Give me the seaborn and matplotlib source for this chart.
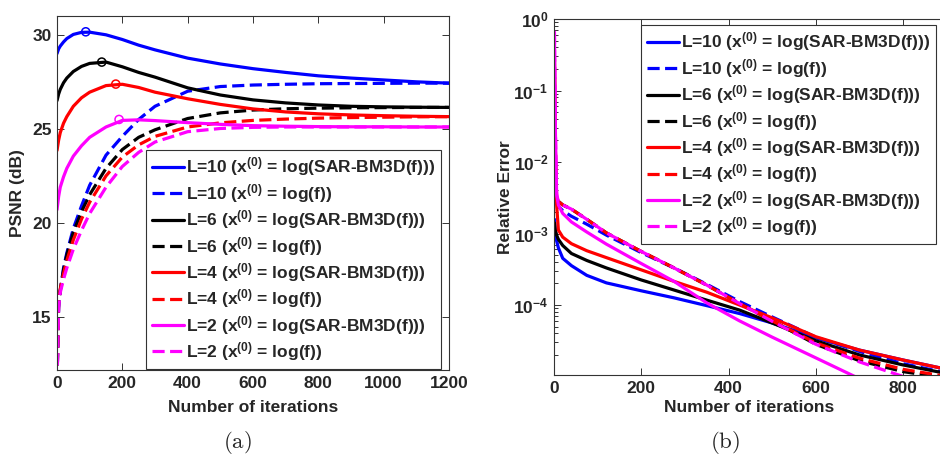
import numpy as np
import pandas as pd
import matplotlib
matplotlib.use("Agg")
import matplotlib.pyplot as plt
import seaborn as sns

# ---------------- data: panel (a) PSNR ----------------
iters_a = [0, 5, 10, 20, 30, 50, 75, 100, 150, 200, 250, 300, 400, 500, 600,
           700, 800, 900, 1000, 1100, 1200]
psnr_L10_bm3d = [29.0, 29.25, 29.4, 29.62, 29.8, 30.02, 30.13, 30.14, 30.0, 29.75, 29.45,
                 29.2, 28.76, 28.45, 28.2, 28.0, 27.82, 27.7, 27.6, 27.5, 27.43]
psnr_L10_logf = [11.5, 15.5, 16.4, 17.6, 18.4, 19.7, 20.9, 22.0, 23.6, 24.6, 25.5,
                 26.2, 27.0, 27.25, 27.33, 27.37, 27.4, 27.41, 27.42, 27.43, 27.43]
psnr_L6_bm3d = [26.5, 26.85, 27.1, 27.45, 27.7, 28.05, 28.32, 28.48, 28.55, 28.3, 28.0,
                27.75, 27.18, 26.8, 26.54, 26.38, 26.27, 26.2, 26.17, 26.15, 26.14]
psnr_L6_logf = [11.5, 15.8, 16.4, 17.5, 18.3, 19.5, 20.6, 21.5, 22.9, 23.9, 24.55,
                24.95, 25.55, 25.85, 26.0, 26.07, 26.1, 26.12, 26.13, 26.14, 26.14]
psnr_L4_bm3d = [23.85, 24.4, 24.8, 25.3, 25.65, 26.2, 26.65, 26.95, 27.3, 27.37, 27.2,
                26.95, 26.6, 26.3, 26.06, 25.9, 25.8, 25.74, 25.7, 25.67, 25.65]
psnr_L4_logf = [11.5, 15.8, 16.5, 17.3, 18.0, 19.1, 20.2, 21.1, 22.5, 23.5, 24.15,
                24.6, 25.1, 25.32, 25.45, 25.52, 25.57, 25.6, 25.62, 25.64, 25.65]
psnr_L2_bm3d = [20.7, 21.4, 21.9, 22.45, 22.9, 23.55, 24.1, 24.55, 25.1, 25.45, 25.48,
                25.44, 25.33, 25.24, 25.17, 25.14, 25.12, 25.11, 25.11, 25.1, 25.1]
psnr_L2_logf = [11.5, 15.5, 16.3, 17.0, 17.6, 18.6, 19.6, 20.5, 21.9, 23.0, 23.75,
                24.3, 24.85, 25.02, 25.08, 25.1, 25.1, 25.1, 25.1, 25.1, 25.1]
peak_iters = [88, 137, 180, 190]
peak_psnr = [30.16, 28.55, 27.38, 25.5]

# ---------------- data: panel (b) relative error ----------------
iters_b = [1, 3, 6, 10, 20, 40, 75, 120, 200, 275, 350, 425, 500, 600, 700, 800, 900]
err_L10_bm3d = [1.58e-3, 1.12e-3, 7.9e-4, 6.3e-4, 4.5e-4, 3.55e-4, 2.6e-4, 2.04e-4, 1.58e-4,
                1.26e-4, 9.8e-5, 7.6e-5, 5.6e-5, 3.47e-5, 2.34e-5, 1.7e-5, 1.26e-5]
err_L10_logf = [5.0e-3, 3.55e-3, 2.82e-3, 2.4e-3, 2.09e-3, 1.74e-3, 1.35e-3, 9.5e-4, 5.4e-4,
                3.3e-4, 1.95e-4, 1.12e-4, 6.8e-5, 3.55e-5, 2.24e-5, 1.51e-5, 1.12e-5]
err_L6_bm3d = [1.41e-3, 1.12e-3, 9.5e-4, 8.3e-4, 6.8e-4, 5.25e-4, 4.2e-4, 3.3e-4, 2.24e-4,
               1.62e-4, 1.17e-4, 8.5e-5, 5.6e-5, 3.16e-5, 2.0e-5, 1.45e-5, 1.1e-5]
err_L6_logf = [5.0e-3, 3.55e-3, 3.16e-3, 2.82e-3, 2.51e-3, 2.19e-3, 1.58e-3, 1.02e-3, 5.6e-4,
               3.3e-4, 1.9e-4, 1.05e-4, 6.0e-5, 2.82e-5, 1.66e-5, 1.17e-5, 9.5e-6]
err_L4_bm3d = [0.27, 1.58e-2, 2.51e-3, 1.12e-3, 8.9e-4, 7.2e-4, 5.75e-4, 4.6e-4, 3.1e-4,
               2.14e-4, 1.51e-4, 1.0e-4, 6.6e-5, 3.6e-5, 2.34e-5, 1.7e-5, 1.26e-5]
err_L4_logf = [0.27, 1.58e-2, 3.16e-3, 2.82e-3, 2.51e-3, 2.19e-3, 1.58e-3, 1.02e-3, 5.6e-4,
               3.3e-4, 1.9e-4, 1.05e-4, 6.0e-5, 2.95e-5, 1.8e-5, 1.26e-5, 1.0e-5]
err_L2_bm3d = [0.66, 3.16e-2, 3.55e-3, 2.51e-3, 1.91e-3, 1.45e-3, 1.05e-3, 7.1e-4, 3.8e-4,
               2.14e-4, 1.07e-4, 6.0e-5, 3.55e-5, 1.82e-5, 9.3e-6, 5.0e-6, 2.5e-6]
err_L2_logf = [0.66, 3.16e-2, 3.55e-3, 2.82e-3, 2.51e-3, 2.19e-3, 1.58e-3, 1.02e-3, 5.6e-4,
               3.3e-4, 1.9e-4, 1.05e-4, 5.9e-5, 2.82e-5, 1.6e-5, 1.0e-5, 7.1e-6]

labels = [r'L=10 ($x^{(0)}$ = log(SAR-BM3D(f)))', r'L=10 ($x^{(0)}$ = log(f))',
          r'L=6 ($x^{(0)}$ = log(SAR-BM3D(f)))', r'L=6 ($x^{(0)}$ = log(f))',
          r'L=4 ($x^{(0)}$ = log(SAR-BM3D(f)))', r'L=4 ($x^{(0)}$ = log(f))',
          r'L=2 ($x^{(0)}$ = log(SAR-BM3D(f)))', r'L=2 ($x^{(0)}$ = log(f))']
colors = ['#0000ff', '#0000ff', '#000000', '#000000', '#ff0000', '#ff0000', '#ff00ff', '#ff00ff']
peak_colors = ['#0000ff', '#000000', '#ff0000', '#ff00ff']
xticks_a = [0, 200, 400, 600, 800, 1000, 1200]
xticks_b = [0, 200, 400, 600, 800]

series_a = [psnr_L10_bm3d, psnr_L10_logf, psnr_L6_bm3d, psnr_L6_logf,
            psnr_L4_bm3d, psnr_L4_logf, psnr_L2_bm3d, psnr_L2_logf]
series_b = [err_L10_bm3d, err_L10_logf, err_L6_bm3d, err_L6_logf,
            err_L4_bm3d, err_L4_logf, err_L2_bm3d, err_L2_logf]

# ---------------- style ----------------
sns.set_theme(style="ticks")
plt.rcParams['font.family'] = ['Liberation Sans', 'DejaVu Sans']
plt.rcParams['font.weight'] = 'bold'
plt.rcParams['axes.labelweight'] = 'bold'
plt.rcParams['mathtext.fontset'] = 'custom'
plt.rcParams['mathtext.bf'] = 'Liberation Sans:bold'
plt.rcParams['mathtext.rm'] = 'Liberation Sans:bold'
plt.rcParams['mathtext.it'] = 'Liberation Sans:bold'
plt.rcParams['mathtext.default'] = 'bf'

FS = 12.5
LW = 2.3
DASH = (0, (3.8, 1.7))

fig = plt.figure(figsize=(9.4, 4.59), dpi=100)
W, H = 940.0, 459.0
ax1 = fig.add_axes([57 / W, 1 - 370 / H, 392 / W, 354 / H])
ax2 = fig.add_axes([554 / W, 1 - 375 / H, 523.8 / W, 356 / H])

def style_axes(ax):
    for s in ax.spines.values():
        s.set_color('0.2')
        s.set_linewidth(0.8)
    ax.tick_params(which='both', direction='in', top=True, right=True,
                   labelsize=FS, color='0.2', width=0.7, pad=4)
    ax.tick_params(which='major', length=5)
    ax.tick_params(which='minor', length=3)
    for t in ax.get_xticklabels() + ax.get_yticklabels():
        t.set_fontweight('bold')

# panel (a)
for i, (vals, lab, col) in enumerate(zip(series_a, labels, colors)):
    df = pd.DataFrame({'iteration': iters_a, 'value': vals})
    sns.lineplot(data=df, x='iteration', y='value', ax=ax1, color=col, lw=LW,
                 linestyle='-' if i % 2 == 0 else DASH, label=lab, legend=False)
for it, pv, col in zip(peak_iters, peak_psnr, peak_colors):
    sns.scatterplot(x=[it], y=[pv], ax=ax1, marker='o', s=34, facecolors='none',
                    edgecolors=col, linewidths=1.1, zorder=5, legend=False)
ax1.set_xlim(0, 1200)
ax1.set_ylim(12.18, 31.0)
ax1.set_xticks(xticks_a)
ax1.set_yticks([15, 20, 25, 30])
ax1.set_xlabel('Number of iterations', fontsize=FS, fontweight='bold')
ax1.set_ylabel('PSNR (dB)', fontsize=FS, fontweight='bold')
style_axes(ax1)
ax1.minorticks_off()

# panel (b)
for i, (vals, lab, col) in enumerate(zip(series_b, labels, colors)):
    df = pd.DataFrame({'iteration': iters_b, 'value': vals})
    sns.lineplot(data=df, x='iteration', y='value', ax=ax2, color=col, lw=LW,
                 linestyle='-' if i % 2 == 0 else DASH, label=lab, legend=False)
ax2.set_yscale('log')
ax2.set_xlim(0, 1200)
ax2.set_ylim(1.05e-5, 1.0)
ax2.set_xticks(xticks_b)
ax2.xaxis.set_minor_locator(matplotlib.ticker.NullLocator())
ax2.set_xlabel('Number of iterations', fontsize=FS, fontweight='bold')
ax2.set_ylabel('Relative Error', fontsize=FS, fontweight='bold')
style_axes(ax2)

# axis label placement
ax1.xaxis.set_label_coords(0.5, (370 - 407) / 354)
ax1.xaxis.label.set_va('center')
ax2.xaxis.set_label_coords((749 - 554) / 523.8, (375 - 408) / 356)
ax2.xaxis.label.set_va('center')
ax1.yaxis.set_label_coords((18 - 57) / 392, 0.5)
ax1.yaxis.label.set_va('center')
ax2.yaxis.set_label_coords((505 - 554) / 523.8, 0.5)
ax2.yaxis.label.set_va('center')

# legends
leg_kw = dict(fontsize=FS, frameon=True, fancybox=False, framealpha=1.0,
              edgecolor='0.2', handlelength=1.85, handletextpad=0.12,
              borderpad=0.32, labelspacing=0.2, borderaxespad=0.0,
              bbox_transform=fig.transFigure, loc='upper left')
h1, l1 = ax1.get_legend_handles_labels()
lg1 = ax1.legend(h1, l1, bbox_to_anchor=(146 / W, 1 - 150 / H), **leg_kw)
h2, l2 = ax2.get_legend_handles_labels()
lg2 = ax2.legend(h2, l2, bbox_to_anchor=(641 / W, 1 - 25 / H), **leg_kw)
for lg in (lg1, lg2):
    lg.get_frame().set_linewidth(0.8)
    for t in lg.get_texts():
        t.set_fontweight('bold')

# subplot captions
fig.text(237 / W, 1 - 442 / H, r'$\mathrm{(a)}$', math_fontfamily='cm',
         fontsize=16.5, ha='center', va='center')
fig.text(725 / W, 1 - 443 / H, r'$\mathrm{(b)}$', math_fontfamily='cm',
         fontsize=16.5, ha='center', va='center')

fig.savefig('out.png', dpi=100)
